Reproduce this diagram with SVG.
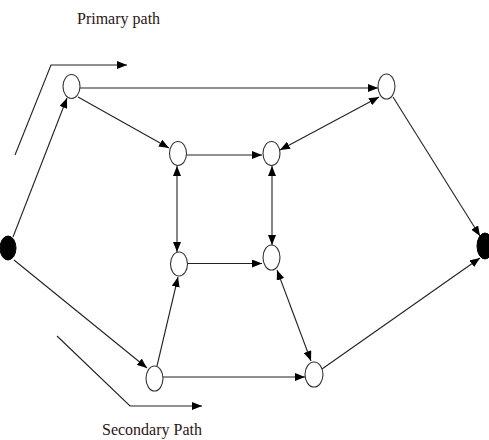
<svg xmlns="http://www.w3.org/2000/svg" width="489" height="440" viewBox="0 0 489 440">
<style>
.n{fill:#fff;stroke:#333;stroke-width:1.1}
.b{fill:#000;stroke:#000}
.e{fill:none;stroke:#222;stroke-width:1.1}
.t{font-family:"Liberation Serif","Times New Roman",serif;font-size:16px;fill:#2e1414}
</style>
<defs>
<marker id="ah" viewBox="0 0 10 8" markerWidth="10" markerHeight="8" refX="10" refY="4" orient="auto-start-reverse" markerUnits="userSpaceOnUse">
<path d="M0,0 L10,4 L0,8 z" fill="#000"/>
</marker>
</defs>
<rect width="489" height="440" fill="#fff"/>
<g id="connectors">
<path class="e" d="M13,237 L67,98" marker-end="url(#ah)"/>
<path class="e" d="M80,88 L378,88" marker-end="url(#ah)"/>
<path class="e" d="M78,97 L169,148" marker-end="url(#ah)"/>
<path class="e" d="M187,155 L262,155" marker-end="url(#ah)"/>
<path class="e" d="M280,150 L379,97" marker-start="url(#ah)" marker-end="url(#ah)"/>
<path class="e" d="M177,166 L177,252" marker-start="url(#ah)" marker-end="url(#ah)"/>
<path class="e" d="M272,166 L272,245" marker-start="url(#ah)" marker-end="url(#ah)"/>
<path class="e" d="M187,263.5 L262,263.5" marker-end="url(#ah)"/>
<path class="e" d="M157,366 L178,277" marker-end="url(#ah)"/>
<path class="e" d="M14,260 L147,368" marker-end="url(#ah)"/>
<path class="e" d="M163,377 L305,377" marker-end="url(#ah)"/>
<path class="e" d="M277,270 L311,361" marker-start="url(#ah)" marker-end="url(#ah)"/>
<path class="e" d="M322,369 L480,258" marker-end="url(#ah)"/>
<path class="e" d="M393,97 L480,236" marker-end="url(#ah)"/>
<path class="e" d="M15,155 L51,65 L127,65" marker-end="url(#ah)"/>
<path class="e" d="M57,336 L130,406 L202,406" marker-end="url(#ah)"/>
</g>
<g id="S"><ellipse class="b" cx="8" cy="248" rx="8" ry="12"/></g>
<g id="T"><ellipse class="b" cx="485" cy="246" rx="8" ry="13"/></g>
<g id="A"><ellipse class="n" cx="71.5" cy="86.5" rx="8.5" ry="12"/></g>
<g id="B"><ellipse class="n" cx="178" cy="153.5" rx="8.5" ry="12"/></g>
<g id="C"><ellipse class="n" cx="271.5" cy="153.5" rx="8.5" ry="12"/></g>
<g id="D"><ellipse class="n" cx="386.5" cy="86.5" rx="8.5" ry="12.5"/></g>
<g id="E"><ellipse class="n" cx="179" cy="264" rx="8.5" ry="12"/></g>
<g id="F"><ellipse class="n" cx="271.5" cy="257.5" rx="8.5" ry="12.5"/></g>
<g id="G"><ellipse class="n" cx="154.5" cy="378.5" rx="8.5" ry="12.5"/></g>
<g id="H"><ellipse class="n" cx="314" cy="374.5" rx="9" ry="12.5"/></g>
<text class="t" x="77" y="24">Primary path</text>
<text class="t" x="102" y="435">Secondary Path</text>
</svg>
